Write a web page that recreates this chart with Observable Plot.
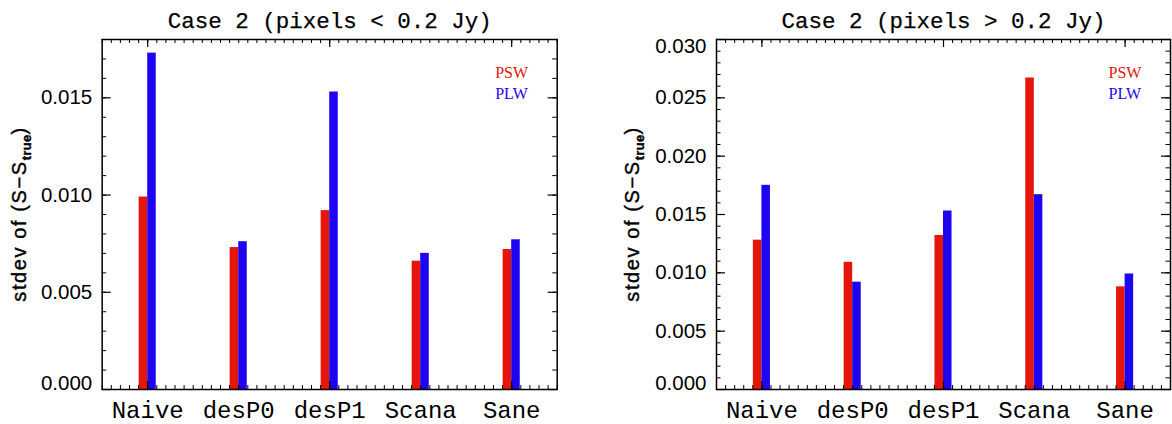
<!DOCTYPE html>
<html><head><meta charset="utf-8">
<script src="https://cdn.jsdelivr.net/npm/d3@7"></script>
<script src="https://cdn.jsdelivr.net/npm/@observablehq/plot@0.6"></script>
<style>
html,body{margin:0;padding:0;background:#fff;}
#wrap{display:flex;width:1172px;height:424px;overflow:hidden;}
#wrap svg{display:block;flex:none;}
</style></head><body><div id="wrap"></div>
<script>
// ---- data ----
const categories = ["Naive", "desP0", "desP1", "Scana", "Sane"];
const seriesNames = ["PSW", "PLW"];
const seriesColors = ["#e4160a", "#1e05f0"];
const titles = ["Case 2 (pixels < 0.2 Jy)", "Case 2 (pixels > 0.2 Jy)"];
const pswLow  = [0.0099, 0.0073, 0.0092, 0.0066, 0.0072];
const plwLow  = [0.0173, 0.0076, 0.0153, 0.0070, 0.0077];
const pswHigh = [0.0128, 0.0109, 0.0132, 0.0267, 0.0088];
const plwHigh = [0.0175, 0.0092, 0.0153, 0.0167, 0.0099];
const yTicksLow  = [0, 0.005, 0.010, 0.015];
const yTicksHigh = [0, 0.005, 0.010, 0.015, 0.020, 0.025, 0.030];
const yMaxLow = 0.018, yMaxHigh = 0.030;
const yMinorStep = 0.001;

const BW = 0.094; // bar width in category units
const serif = "Liberation Mono";
const sans = "Liberation Sans";

function panel({title, psw, plw, yMax, yTicks, marginLeft, marginRight, labelX}) {
  const width = 586, height = 424, marginTop = 39, marginBottom = 35;
  const innerW = width - marginLeft - marginRight;
  const innerH = height - marginTop - marginBottom;
  const rows = categories.flatMap((c, i) => [
    {i, s: seriesNames[0], v: psw[i]},
    {i, s: seriesNames[1], v: plw[i]}
  ]);
  const yMinor = d3.range(0, yMax + 1e-9, yMinorStep);
  const xMinor = d3.range(-0.5, 4.5001, 0.1);
  const xMajor = [0, 2, 4];
  const fmt = d3.format(".3f");
  const inner = yTicks.filter(v => v > 0 && v < yMax - 1e-9);
  const bottomT = yTicks.filter(v => v === 0);
  const topT = yTicks.filter(v => v >= yMax - 1e-9);
  const yAxisOpts = {tickSize: 0, tickPadding: 10, tickFormat: fmt, fontSize: 20.5,
                     fontFamily: sans, fill: "#000", label: null};
  const plot = Plot.plot({
    width, height, marginLeft, marginRight, marginTop, marginBottom,
    style: {fontFamily: sans, background: "#fff", overflow: "visible"},
    x: {type: "linear", domain: [-0.5, 4.5], axis: null},
    y: {domain: [0, yMax], axis: null},
    color: {domain: seriesNames, range: seriesColors},
    marks: [
      Plot.rectY(rows, {
        x1: d => d.s === seriesNames[0] ? d.i - BW : d.i,
        x2: d => d.s === seriesNames[0] ? d.i : d.i + BW,
        y: "v", fill: "s", inset: 0
      }),
      // inward ticks on all four sides
      Plot.ruleY(yMinor, {y: d => d, insetRight: innerW - 4.5, stroke: "#000", strokeWidth: 1}),
      Plot.ruleY(yMinor, {y: d => d, insetLeft: innerW - 4.5, stroke: "#000", strokeWidth: 1}),
      Plot.ruleY(yTicks, {y: d => d, insetRight: innerW - 9, stroke: "#000", strokeWidth: 1.2}),
      Plot.ruleY(yTicks, {y: d => d, insetLeft: innerW - 9, stroke: "#000", strokeWidth: 1.2}),
      Plot.ruleX(xMinor, {x: d => d, insetTop: innerH - 4, stroke: "#000", strokeWidth: 1}),
      Plot.ruleX(xMinor, {x: d => d, insetBottom: innerH - 4, stroke: "#000", strokeWidth: 1}),
      Plot.ruleX(xMajor, {x: d => d, insetTop: innerH - 8, stroke: "#000", strokeWidth: 1.2}),
      Plot.ruleX(xMajor, {x: d => d, insetBottom: innerH - 8, stroke: "#000", strokeWidth: 1.2}),
      Plot.frame({stroke: "#000", strokeWidth: 1.5}),
      Plot.axisY({...yAxisOpts, ticks: inner}),
      Plot.axisY({...yAxisOpts, ticks: bottomT, dy: -6}),
      Plot.axisY({...yAxisOpts, ticks: topT, dy: 7}),
      Plot.axisX({ticks: [0, 1, 2, 3, 4], tickSize: 0, tickPadding: 11, tickFormat: i => categories[i],
                  fontSize: 24, fontFamily: serif, fill: "#000", stroke: "#000", strokeWidth: 0.5, label: null}),
      Plot.text([title], {text: d => d, frameAnchor: "top", lineAnchor: "middle", dy: -19, fontSize: 22.5,
                  fontFamily: serif, fill: "#000", stroke: "#000", strokeWidth: 0.25}),
      Plot.text([seriesNames[0]], {text: d => d, frameAnchor: "top-right", textAnchor: "start", lineAnchor: "middle",
                  dx: -62, dy: 33, fontSize: 16, fontFamily: "Liberation Serif", fill: seriesColors[0]}),
      Plot.text([seriesNames[1]], {text: d => d, frameAnchor: "top-right", textAnchor: "start", lineAnchor: "middle",
                  dx: -62, dy: 54, fontSize: 16, fontFamily: "Liberation Serif", fill: seriesColors[1]})
    ]
  });
  // y-axis title with subscript
  const svg = d3.select(plot);
  const t = svg.append("text")
    .attr("transform", `translate(${labelX},${marginTop + innerH / 2}) rotate(-90)`)
    .attr("text-anchor", "middle")
    .attr("font-family", sans)
    .attr("font-size", 20)
    .attr("letter-spacing", "1.6px")
    .attr("fill", "#000")
    .attr("stroke", "#000").attr("stroke-width", 0.4);
  t.append("tspan").text("stdev of (S\u2212S");
  t.append("tspan").attr("font-size", 13).attr("font-weight", "bold").attr("letter-spacing", "0.3px").attr("dy", 5).text("true");
  t.append("tspan").attr("dy", -5).text(")");
  return plot;
}

const wrap = document.getElementById("wrap");
wrap.append(panel({title: titles[0], psw: pswLow, plw: plwLow, yMax: yMaxLow, yTicks: yTicksLow,
                   marginLeft: 101.7, marginRight: 29.3, labelX: 26}));
wrap.append(panel({title: titles[1], psw: pswHigh, plw: plwHigh, yMax: yMaxHigh, yTicks: yTicksHigh,
                   marginLeft: 130, marginRight: 2, labelX: 53}));
</script></body></html>
